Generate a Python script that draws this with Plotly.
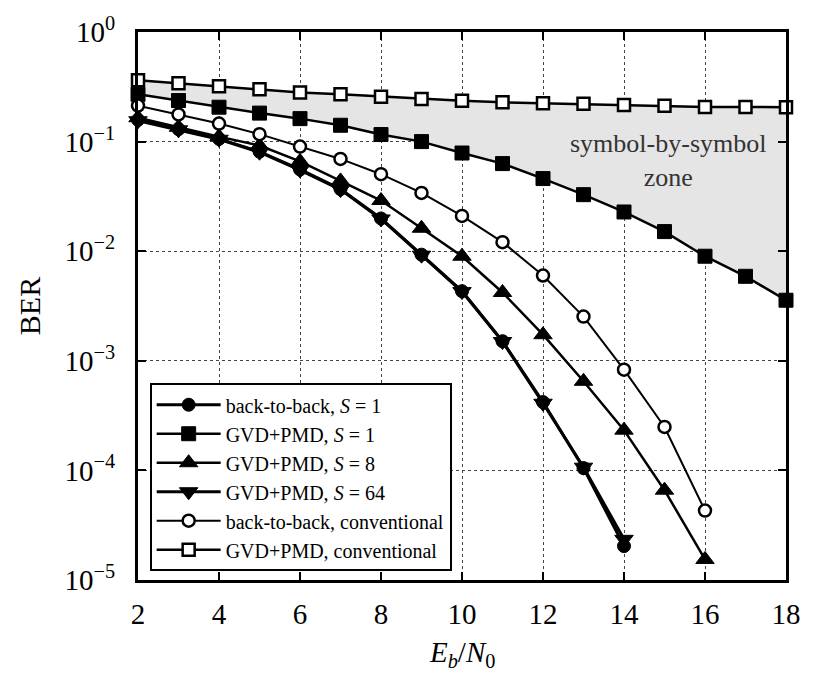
import plotly.graph_objects as go

ebn0 = list(range(2, 19))

b2b_s1 = [0.158, 0.130, 0.106, 0.081, 0.0557, 0.0369, 0.0199, 0.0093, 0.00432, 0.00151, 0.00042, 1.05e-4, 2.04e-5]
gvd_s1 = [0.27, 0.237, 0.206, 0.182, 0.162, 0.141, 0.116, 0.100, 0.0787, 0.063, 0.046, 0.0328, 0.0228, 0.0151, 0.0090, 0.0059, 0.00357]
gvd_s8 = [0.165, 0.135, 0.111, 0.092, 0.066, 0.0438, 0.029, 0.0162, 0.0090, 0.0042, 0.00173, 0.00065, 0.000233, 6.6e-5, 1.54e-5]
gvd_s64 = [0.155, 0.128, 0.105, 0.080, 0.0550, 0.0365, 0.0197, 0.0092, 0.00428, 0.00150, 0.00041, 1.07e-4, 2.35e-5]
b2b_conv = [0.213, 0.177, 0.146, 0.117, 0.090, 0.0695, 0.0504, 0.034, 0.021, 0.0121, 0.0060, 0.00253, 0.00083, 0.000249, 4.3e-5]
gvd_conv = [0.362, 0.340, 0.320, 0.300, 0.280, 0.270, 0.257, 0.245, 0.236, 0.228, 0.224, 0.221, 0.216, 0.212, 0.207, 0.207, 0.206]

ytick_vals = [1, 1e-1, 1e-2, 1e-3, 1e-4, 1e-5]
ytick_text = ["10<sup>0</sup>", "10<sup>−1</sup>", "10<sup>−2</sup>", "10<sup>−3</sup>",
              "10<sup>−4</sup>", "10<sup>−5</sup>"]
xtick_vals = [2, 4, 6, 8, 10, 12, 14, 16, 18]

FONT = "Liberation Serif, Times New Roman, Times, serif"

fig = go.Figure()

# shaded symbol-by-symbol zone
fig.add_trace(go.Scatter(x=ebn0, y=gvd_conv, mode="lines", line=dict(width=0),
                         showlegend=False, hoverinfo="skip"))
fig.add_trace(go.Scatter(x=ebn0, y=gvd_s1, mode="lines", line=dict(width=0),
                         fill="tonexty", fillcolor="#e5e5e5",
                         showlegend=False, hoverinfo="skip"))

def add(y, name, symbol, size, lw, open_=False):
    fig.add_trace(go.Scatter(
        x=ebn0[:len(y)], y=y, name=name, mode="lines+markers",
        line=dict(color="black", width=lw),
        marker=dict(symbol=symbol, size=size,
                    color="white" if open_ else "black",
                    line=dict(color="black", width=2.5 if open_ else 1)),
        cliponaxis=False))

add(b2b_s1, "back-to-back, <i>S</i> = 1", "circle", 13, 3)
add(gvd_s1, "GVD+PMD, <i>S</i> = 1", "square", 14, 2.5)
add(gvd_s8, "GVD+PMD, <i>S</i> = 8", "triangle-up", 16, 2.5)
add(gvd_s64, "GVD+PMD, <i>S</i> = 64", "triangle-down", 16, 3)
add(b2b_conv, "back-to-back, conventional", "circle", 12, 2, open_=True)
add(gvd_conv, "GVD+PMD, conventional", "square", 12, 2.5, open_=True)

fig.add_annotation(x=15.08, y=-1.17, yref="y", xref="x",
                   text="symbol-by-symbol<br>zone", showarrow=False,
                   font=dict(family=FONT, size=26, color="#333333"),
                   align="center", yanchor="middle")

fig.add_annotation(x=0.5, y=-0.135, xref="paper", yref="paper",
                   text="<i>E<sub>b</sub></i>/<i>N</i><sub>0</sub>", showarrow=False,
                   font=dict(family=FONT, size=29, color="black"), yanchor="middle")

fig.update_xaxes(range=[2, 18], tickvals=xtick_vals, showgrid=True,
                 gridcolor="#444444", griddash="dot", gridwidth=1,
                 showline=True, linecolor="black", linewidth=3, mirror="ticks",
                 ticks="inside", ticklen=8, tickwidth=2, tickcolor="black",
                 tickfont=dict(family=FONT, size=29, color="black"),
                 ticklabelstandoff=6, zeroline=False)
fig.update_yaxes(type="log", range=[-5, 0], tickvals=ytick_vals, ticktext=ytick_text,
                 showgrid=True, gridcolor="#444444", griddash="dot", gridwidth=1,
                 showline=True, linecolor="black", linewidth=3, mirror="ticks",
                 ticks="inside", ticklen=8, tickwidth=2, tickcolor="black",
                 tickfont=dict(family=FONT, size=29, color="black"),
                 ticklabelstandoff=14,
                 title=dict(text="BER", font=dict(family=FONT, size=30, color="black"),
                            standoff=16))

fig.update_layout(
    width=813, height=675,
    margin=dict(l=138, r=21, t=22, b=95),
    plot_bgcolor="white", paper_bgcolor="white",
    font=dict(family=FONT, color="black"),
    legend=dict(x=0.018, y=0.016, xanchor="left", yanchor="bottom",
                traceorder="normal",
                bgcolor="white", bordercolor="black", borderwidth=2,
                font=dict(family=FONT, size=20, color="black"),
                tracegroupgap=0, itemwidth=64),
)

fig.write_html("out.html")
